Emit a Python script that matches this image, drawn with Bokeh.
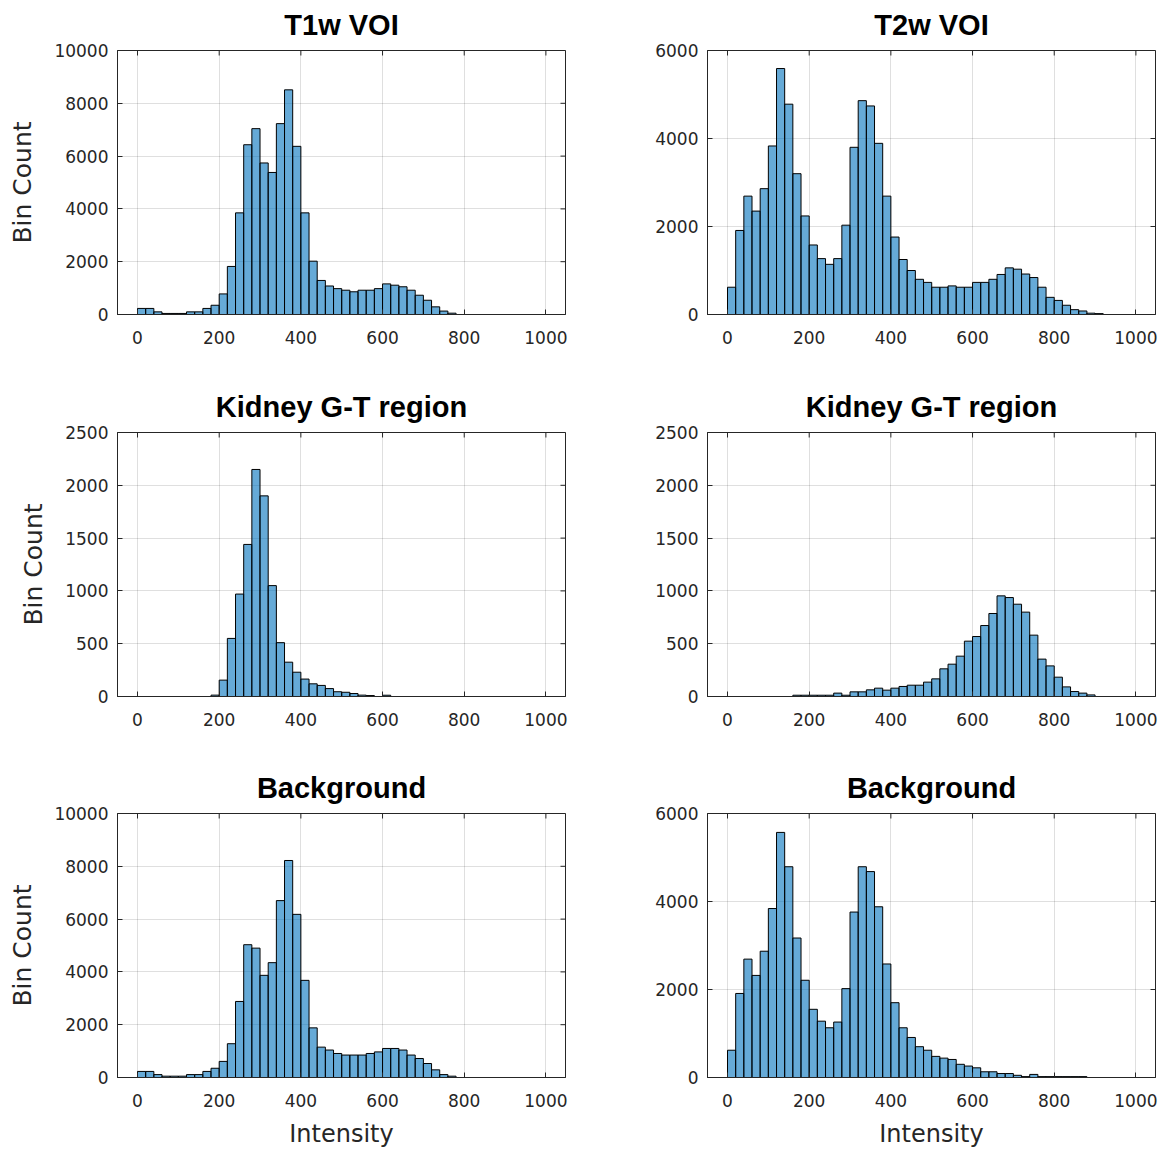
import numpy as np
from bokeh.plotting import figure
from bokeh.models import Range1d, FixedTicker, ColumnDataSource
from bokeh.layouts import column, row
from bokeh.embed import file_html
from bokeh.resources import INLINE

# ---------------- data ----------------
bin_edges = list(range(0, 1001, 20))          # 50 bins, width 20
x_ticks = [0, 200, 400, 600, 800, 1000]

t1_voi = [230, 230, 100, 40, 40, 40, 100, 100, 230, 350,
          780, 1820, 3850, 6430, 7040, 5740, 5380, 7230, 8510, 6370,
          3850, 2020, 1290, 1080, 980, 920, 860, 920, 920, 980,
          1160, 1110, 1050, 920, 730, 540, 290, 130, 50, 0,
          0, 0, 0, 0, 0, 0, 0, 0, 0, 0]

t2_voi = [620, 1910, 2690, 2350, 2860, 3830, 5590, 4780, 3200, 2240,
          1580, 1270, 1140, 1270, 2030, 3800, 4860, 4740, 3890, 2690,
          1760, 1250, 1000, 800, 730, 620, 620, 650, 620, 620,
          730, 730, 800, 910, 1060, 1030, 920, 840, 620, 390,
          320, 210, 110, 80, 30, 20, 0, 0, 0, 0]

t1_kidney = [0, 0, 0, 0, 0, 0, 0, 0, 0, 13,
             155, 550, 970, 1440, 2150, 1900, 1050, 510, 325, 230,
             165, 120, 105, 75, 45, 40, 28, 13, 9, 0,
             12, 0, 0, 0, 0, 0, 0, 0, 0, 0,
             0, 0, 0, 0, 0, 0, 0, 0, 0, 0]

t2_kidney = [0, 0, 0, 0, 0, 0, 0, 0, 12, 12,
             12, 12, 12, 32, 12, 44, 44, 63, 79, 60,
             79, 95, 107, 107, 136, 167, 262, 306, 382, 524,
             568, 672, 786, 953, 937, 874, 799, 581, 354, 290,
             183, 91, 47, 32, 15, 0, 0, 0, 0, 0]

t1_background = [230, 230, 110, 50, 50, 50, 110, 110, 230, 350,
                 610, 1280, 2880, 5030, 4900, 3870, 4350, 6700, 8220, 6180,
                 3680, 1880, 1150, 1040, 910, 850, 850, 850, 910, 970,
                 1100, 1100, 1040, 850, 720, 530, 290, 110, 50, 0,
                 0, 0, 0, 0, 0, 0, 0, 0, 0, 0]

t2_background = [620, 1910, 2690, 2320, 2870, 3840, 5570, 4790, 3170, 2210,
                 1550, 1280, 1130, 1260, 2020, 3760, 4790, 4680, 3880, 2580,
                 1700, 1130, 910, 700, 620, 480, 440, 410, 300, 260,
                 220, 130, 130, 90, 90, 50, 20, 70, 20, 20,
                 20, 20, 20, 20, 0, 0, 0, 0, 0, 0]

titles = ["T1w VOI", "T2w VOI", "Kidney G-T region", "Kidney G-T region",
          "Background", "Background"]
y_max = [10000, 6000, 2500, 2500, 10000, 6000]
y_step = [2000, 2000, 500, 500, 2000, 2000]
series = [t1_voi, t2_voi, t1_kidney, t2_kidney, t1_background, t2_background]

# ---------------- style ----------------
FONT = "DejaVu Sans"
TITLE_FONT = "Liberation Sans"
AX = "#262626"
BAR = "#0072BD"
X_LO, X_HI = -49, 1048


def make_panel(idx):
    col = idx % 2
    r = idx // 2
    counts = series[idx]
    ymax = y_max[idx]
    yt = list(range(0, ymax + 1, y_step[idx]))

    p = figure(frame_width=448, frame_height=264,
               x_range=Range1d(X_LO, X_HI), y_range=Range1d(0, ymax),
               output_backend="svg", toolbar_location=None,
               min_border_left=117 if col == 0 else 71,
               min_border_right=71 if col == 0 else 5,
               min_border_top=50,
               min_border_bottom=(68, 67, 70)[r])
    p.background_fill_color = "white"
    p.border_fill_color = "white"
    p.outline_line_color = AX
    p.outline_line_width = 1

    src = ColumnDataSource(dict(left=bin_edges[:-1], right=bin_edges[1:],
                                top=counts, bottom=[0] * len(counts)))
    p.quad(left="left", right="right", top="top", bottom="bottom", source=src,
           fill_color=BAR, fill_alpha=0.6, line_color="black", line_width=1)

    # inward tick marks on the top and right edges of the box
    p.scatter(x=x_ticks, y=[ymax] * len(x_ticks), marker="dash", size=10,
              angle=np.pi / 2, line_color=AX, line_width=1)
    p.scatter(x=[X_HI] * len(yt), y=yt, marker="dash", size=10,
              angle=0, line_color=AX, line_width=1)

    p.title.text = titles[idx]
    p.title.align = "center"
    p.title.vertical_align = "top"
    p.title.text_font = TITLE_FONT
    p.title.text_font_size = "29px"
    p.title.text_font_style = "bold"
    p.title.text_color = "black"
    p.title.standoff = 15

    p.xaxis.ticker = FixedTicker(ticks=x_ticks)
    p.yaxis.ticker = FixedTicker(ticks=yt)
    for ax in (p.xaxis[0], p.yaxis[0]):
        ax.axis_line_color = AX
        ax.major_tick_line_color = AX
        ax.major_tick_in = 5
        ax.major_tick_out = 0
        ax.minor_tick_line_color = None
        ax.major_label_text_font = FONT
        ax.major_label_text_font_size = "17px"
        ax.major_label_text_color = AX
        ax.axis_label_text_font = FONT
        ax.axis_label_text_font_style = "normal"
        ax.axis_label_text_color = AX
    p.xaxis.major_label_standoff = 16
    p.yaxis.major_label_standoff = 9

    if col == 0:
        p.yaxis.axis_label = "Bin Count"
        p.yaxis.axis_label_text_font_size = "25px"
        p.yaxis.axis_label_standoff = 14
    if r == 2:
        p.xaxis.axis_label = "Intensity"
        p.xaxis.axis_label_text_font_size = "24px"
        p.xaxis.axis_label_standoff = 10

    p.xgrid.ticker = FixedTicker(ticks=x_ticks)
    p.ygrid.ticker = FixedTicker(ticks=yt)
    p.xgrid.grid_line_color = AX
    p.ygrid.grid_line_color = AX
    p.xgrid.grid_line_alpha = 0.15
    p.ygrid.grid_line_alpha = 0.15
    return p


panels = [make_panel(i) for i in range(6)]
layout = column(row(panels[0], panels[1]),
                row(panels[2], panels[3]),
                row(panels[4], panels[5]))

open("out.html", "w").write(file_html(layout, INLINE))
